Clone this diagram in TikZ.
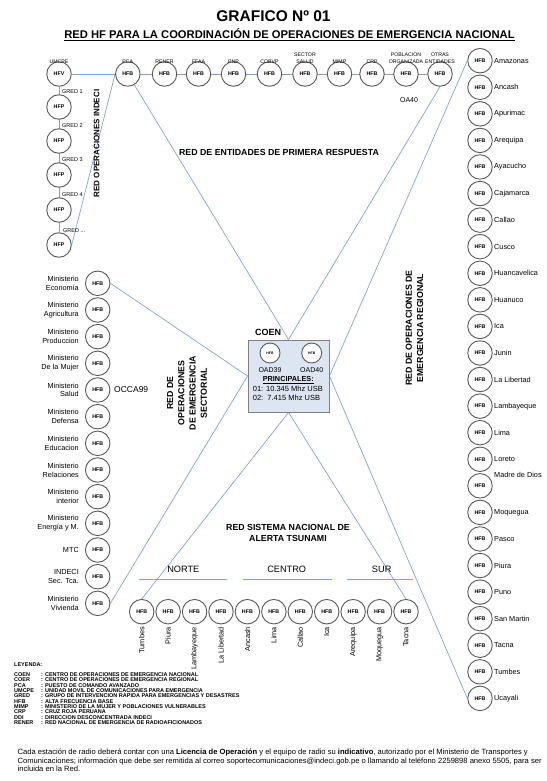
\documentclass[tikz,border=0pt]{standalone}
\usepackage{fontspec}
\setmainfont{Liberation Sans}
\usetikzlibrary{backgrounds}
\definecolor{lblue}{RGB}{125,160,215}
\definecolor{boxfill}{RGB}{220,230,242}
\definecolor{boxdraw}{RGB}{128,128,128}
\newcommand{\myfs}[2]{\fontsize{#1}{#2}\selectfont}
\begin{document}
\begin{tikzpicture}[x=1pt,y=-1pt,
 hf/.style={circle,draw=black!65,line width=0.9pt,fill=white,minimum size=24.5pt,inner sep=0pt,font=\bfseries\myfs{5.3}{6}},
 lnk/.style={draw=lblue,line width=0.65pt},
 toplab/.style={font=\myfs{5.2}{6.4},align=center,inner sep=0pt,anchor=south},
 grlab/.style={font=\myfs{5.5}{6.5},inner sep=0pt,anchor=west},
 minlab/.style={font=\myfs{7.3}{8.8},align=right,inner sep=0pt,anchor=east},
 reglab/.style={font=\myfs{7.3}{8.8},inner sep=0pt,anchor=west},
 tslab/.style={font=\myfs{7.3}{8.8},inner sep=0pt,anchor=east,rotate=90},
 head/.style={font=\bfseries\myfs{8.8}{11.3},align=center,inner sep=0pt},
 grp/.style={font=\myfs{9.2}{11},inner sep=0pt},
 leg/.style={font=\bfseries\myfs{5.5}{5.3},inner sep=0pt,anchor=base west},
]
\useasboundingbox (0,0) rectangle (546,781);

% titles
\node[font=\bfseries\myfs{15.5}{18}] (title) at (273.5,15.7) {GRAFICO Nº 01};
\node[font=\bfseries\myfs{11.2}{13}] (sub) at (289.5,35) {\underline{RED HF PARA LA COORDINACIÓN DE OPERACIONES DE EMERGENCIA NACIONAL}};

% top row
\node[hf] (umcpe) at (59,74) {HFV};
\node[toplab] (umcpe-l) at (59,63.5) {UMCPE};
\foreach \x/\n/\t in {127.8/pca/PCA, 164.5/rener/RENER, 198.5/ffaa/FFAA, 233.5/pnp/PNP, 269.5/cobvp/COBVP, 305/salud/SECTOR\\SALUD, 339.5/mimp/MIMP, 372/crp/CRP, 406/pob/POBLACION\\ORGANIZADA, 440/otras/OTRAS\\ENTIDADES}
{ \node[hf] (\n) at (\x,74) {HFB}; \node[toplab] (\n-l) at (\x,63.5) {\t}; }
\node[font=\myfs{7}{8}] (oa40) at (409,100) {OA40};

% GRED column
\foreach \yy/\t [count=\i] in {107/1, 141/2, 175/3, 210/4}
{ \node[hf] (g\i) at (59,\yy) {HFP}; \node[grlab] (gl\i) at (62,\yy-15.5) {GRED \t}; }
\node[hf] (g5) at (59,245) {HFP};
\node[grlab] (gl5) at (63,231) {GRED ...};
\node[font=\bfseries\myfs{8}{9.6},rotate=90] (indeci) at (96.7,143.5) {RED OPERACIONES INDECI};

\node[head] (entid) at (279,152) {RED DE ENTIDADES DE PRIMERA RESPUESTA};

% ministries
\foreach \t [count=\i] in {Ministerio\\Economía, Ministerio\\Agricultura, Ministerio\\Produccion, Ministerio\\De la Mujer, Ministerio\\Salud, Ministerio\\Defensa, Ministerio\\Educacion, Ministerio\\Relaciones, Ministerio\\interior, Ministerio\\Energía y M., MTC, INDECI\\Sec. Tca., Ministerio\\Vivienda}
{ \pgfmathsetmacro\yy{283.3+26.67*(\i-1)}
  \node[hf] (m\i) at (97.7,\yy) {HFB}; \node[minlab] (ml\i) at (79,\yy) {\t}; }
\node[font=\myfs{8.5}{10},anchor=west,inner sep=0pt] (occa) at (114,390) {OCCA99};
\node[head,rotate=90] (sect) at (187,393) {RED DE\\OPERACIONES\\DE EMERGENCIA\\SECTORIAL};

% regions column
\foreach \t [count=\i] in {Amazonas, Ancash, Apurimac, Arequipa, Ayacucho, Cajamarca, Callao, Cusco, Huancavelica, Huanuco, Ica, Junin, La Libertad, Lambayeque, Lima, Loreto, Madre de Dios, Moquegua, Pasco, Piura, Puno, San Martin, Tacna, Tumbes, Ucayali}
{ \pgfmathsetmacro\yy{60.7+26.57*(\i-1)}
  \node[hf] (r\i) at (480,\yy) {HFB};
  \ifnum\i=17 \node[reglab] (rl\i) at (494,\yy-11) {\t};
  \else \node[reglab] (rl\i) at (494,\yy) {\t}; \fi }
\node[head,rotate=90] (regio) at (414.5,328) {RED DE OPERACIONES DE\\EMERGENCIA REGIONAL};

% COEN
\node[draw=boxdraw,fill=boxfill,line width=0.9pt,minimum width=81pt,minimum height=72pt,inner sep=0pt] (coen) at (288.5,376) {};
\node[font=\bfseries\myfs{9}{10}] (coenlab) at (268,332) {COEN};
\node[hf,minimum size=20pt,font=\bfseries\myfs{3.5}{4}] (c1) at (270,353) {HFB};
\node[hf,minimum size=20pt,font=\bfseries\myfs{3.5}{4}] (c2) at (311.7,353) {HFB};
\node[font=\myfs{7}{8},inner sep=0pt] (c1l) at (270,370) {OAD39};
\node[font=\myfs{7}{8},inner sep=0pt] (c2l) at (311.7,370) {OAD40};
\node[font=\bfseries\myfs{7.3}{8},inner sep=0pt] (princ) at (288.3,380) {\underline{PRINCIPALES:}};
\node[font=\myfs{7.5}{8},anchor=west,inner sep=0pt] (f1) at (252.7,389.3) {01: 10.345 Mhz USB};
\node[font=\myfs{7.5}{8},anchor=west,inner sep=0pt] (f2) at (252.7,398.3) {02:\ \ 7.415 Mhz USB};

% tsunami
\node[head] (tsu) at (288,533) {RED SISTEMA NACIONAL DE\\ALERTA TSUNAMI};
\node[grp] (norte) at (183.3,569.3) {NORTE};
\node[grp] (centro) at (286.7,569.3) {CENTRO};
\node[grp] (sur) at (381.7,569.3) {SUR};
\coordinate (n1) at (139,579); \coordinate (n2) at (227,579);
\coordinate (ce1) at (243,579); \coordinate (ce2) at (331.7,579);
\coordinate (s1) at (346.7,579); \coordinate (s2) at (413.3,579);
\foreach \t [count=\i] in {Tumbes, Piura, Lambayeque, La Libertad, Ancash, Lima, Callao, Ica, Arequipa, Moquegua, Tacna}
{ \pgfmathsetmacro\xx{141.7+26.43*(\i-1)}
  \node[hf] (t\i) at (\xx,611.7) {HFB}; \node[tslab] (tl\i) at (\xx,627) {\t}; }

% legend
\node[leg] (ley) at (14,666.8) {LEYENDA:};
\foreach \a/\d [count=\i] in {COEN/CENTRO DE OPERACIONES DE EMERGENCIA NACIONAL, COER/CENTRO DE OPERACIONES DE EMERGENCIA REGIONAL, PCA/PUESTO DE COMANDO AVANZADO, UMCPE/UNIDAD MOVIL DE COMUNICACIONES PARA EMERGENCIA, GRED/GRUPO DE INTERVENCION RAPIDA PARA EMERGENCIAS Y DESASTRES, HFB/ALTA FRECUENCIA BASE, MIMP/MINISTERIO DE LA MUJER Y POBLACIONES VULNERABLES, CRP/CRUZ ROJA PERUANA, DDI/DIRECCION DESCONCENTRADA INDECI, RENER/RED NACIONAL DE EMERGENCIA DE RADIOAFICIONADOS}
{ \pgfmathsetmacro\yy{676.6+5.3*(\i-1)}
  \node[leg] (la\i) at (14,\yy) {\a}; \node[leg] (ld\i) at (41,\yy) {: \d}; }

\node[anchor=north west,align=left,inner sep=0pt,font=\myfs{7.6}{8.4}] (foot) at (17.5,749) {Cada estación de radio deberá contar con una \textbf{Licencia de Operación} y el equipo de radio su \textbf{indicativo}, autorizado por el Ministerio de Transportes y\\Comunicaciones; información que debe ser remitida al correo soportecomunicaciones@indeci.gob.pe o llamando al teléfono 2259898 anexo 5505, para ser\\incluida en la Red.};

% connectors
\begin{scope}[on background layer]
\fill[white] (0,0) rectangle (546,781);
\draw[lnk] (umcpe) -- (otras);
\draw[lnk] (umcpe) -- (g5);
\draw[lnk] (pca.west) -- (g5.east);
\draw[lnk] (pca) -- (coen.north);
\draw[lnk] (otras.south) -- (coen.north);
\draw[lnk] (r1.west) -- (coen.east);
\draw[lnk] (r25.west) -- (coen.east);
\draw[lnk] (m1.east) -- (coen.west);
\draw[lnk] (m13.east) -- (coen.west);
\draw[lnk] (t1.north) -- (coen.south);
\draw[lnk] (t11.north) -- (coen.south);
\draw[lnk] (n1) -- (n2);
\draw[lnk] (ce1) -- (ce2);
\draw[lnk] (s1) -- (s2);
\end{scope}
\end{tikzpicture}
\end{document}
